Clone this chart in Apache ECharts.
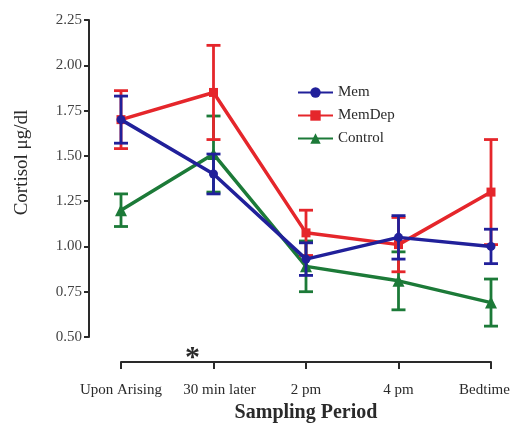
<!DOCTYPE html>
<html>
<head>
<meta charset="utf-8">
<script src="https://cdn.jsdelivr.net/npm/echarts@6/dist/echarts.min.js"></script>
<style>
  html, body { margin: 0; padding: 0; background: #ffffff; overflow: hidden; }
  #chart { width: 514px; height: 423px; }
</style>
</head>
<body>
<div id="chart"></div>
<script>
// Sampling periods across the day
const categories = ['Upon Arising', '30 min later', '2 pm', '4 pm', 'Bedtime'];

// Mean cortisol (µg/dl) and error for each group
const memMean = [1.70, 1.40, 0.93, 1.05, 1.00];
const memErr = [0.13, 0.11, 0.09, 0.12, 0.095];
const memDepMean = [1.70, 1.85, 1.075, 1.01, 1.30];
const memDepErr = [0.16, 0.26, 0.125, 0.15, 0.29];
const controlMean = [1.20, 1.51, 0.89, 0.81, 0.69];
const controlErr = [0.09, 0.21, 0.14, 0.16, 0.13];

// Y axis ticks
const yMin = 0.5, yMax = 2.25, yStep = 0.25;

const FONT = 'Liberation Serif';
const INK = '#2a2a2a';
const BLUE = '#21209a';
const RED = '#e5262b';
const GREEN = '#1c7a38';

function errorData(mean, err) {
  return categories.map((c, i) => [i, mean[i] - err[i], mean[i] + err[i]]);
}

function errorBars(color) {
  return function (params, api) {
    const x = api.value(0);
    const lo = api.coord([x, api.value(1)]);
    const hi = api.coord([x, api.value(2)]);
    const hw = 7;
    const style = { stroke: color, lineWidth: 2.8 };
    return {
      type: 'group',
      children: [
        { type: 'line', shape: { x1: lo[0], y1: lo[1], x2: hi[0], y2: hi[1] }, style },
        { type: 'line', shape: { x1: lo[0] - hw, y1: lo[1], x2: lo[0] + hw, y2: lo[1] }, style },
        { type: 'line', shape: { x1: hi[0] - hw, y1: hi[1], x2: hi[0] + hw, y2: hi[1] }, style }
      ]
    };
  };
}

function group(name, mean, err, color, symbol, size, z) {
  return [
    {
      type: 'custom',
      renderItem: errorBars(color),
      data: errorData(mean, err),
      encode: { x: 0, y: [1, 2] },
      z: z,
      silent: true
    },
    {
      type: 'line',
      name: name,
      data: mean,
      symbol: symbol,
      symbolSize: size,
      itemStyle: { color: color },
      lineStyle: { color: color, width: 3.5 },
      z: z + 0.5
    }
  ];
}

const chart = echarts.init(document.getElementById('chart'), null, {
  renderer: 'canvas', width: 514, height: 423
});

chart.setOption({
  animation: false,
  backgroundColor: '#ffffff',
  textStyle: { fontFamily: FONT },
  grid: { left: 121, right: 23, top: 20, bottom: 86, outerBoundsMode: 'none', containLabel: false },
  legend: {
    data: ['Mem', 'MemDep', 'Control'],
    orient: 'vertical',
    left: 297,
    top: 85,
    padding: 0,
    itemWidth: 35,
    itemHeight: 13,
    itemGap: 8,
    textStyle: { fontFamily: FONT, fontSize: 15, color: INK }
  },
  xAxis: {
    type: 'category',
    data: categories,
    boundaryGap: false,
    offset: 25,
    axisLine: { lineStyle: { color: INK, width: 2 } },
    axisTick: { length: 7, lineStyle: { color: INK, width: 2 } },
    axisLabel: {
      fontFamily: FONT, fontSize: 15, color: INK, margin: 21, interval: 0,
      formatter: (v, i) => i === 4 ? '{last|' + v + '}' : (i === 1 ? '{second|' + v + '}' : v),
      rich: {
        last: { fontFamily: FONT, fontSize: 15, color: INK, padding: [0, 13, 0, 0] },
        second: { fontFamily: FONT, fontSize: 15, color: INK, padding: [0, 0, 0, 12] }
      }
    },
    name: 'Sampling Period',
    nameLocation: 'middle',
    nameGap: 36,
    nameTextStyle: { fontFamily: FONT, fontSize: 20, fontWeight: 'bold', color: INK }
  },
  yAxis: {
    type: 'value',
    min: yMin,
    max: yMax,
    interval: yStep,
    offset: 32,
    splitLine: { show: false },
    axisLine: { show: true, lineStyle: { color: INK, width: 2 } },
    axisTick: { show: true, length: 5, lineStyle: { color: INK, width: 2 } },
    axisLabel: {
      fontFamily: FONT, fontSize: 15, color: '#444', margin: 7,
      formatter: v => v.toFixed(2)
    },
    name: 'Cortisol μg/dl',
    nameLocation: 'middle',
    nameGap: 57,
    nameTextStyle: { fontFamily: FONT, fontSize: 19, color: INK, padding: [0, 0, 0, 32] }
  },
  graphic: [
    {
      type: 'text',
      left: 185,
      top: 343,
      style: { text: '*', font: 'bold 30px "Liberation Serif"', fill: INK }
    }
  ],
  series: [
    ...group('Control', controlMean, controlErr, GREEN, 'triangle', 12, 2),
    ...group('MemDep', memDepMean, memDepErr, RED, 'rect', 9, 3),
    ...group('Mem', memMean, memErr, BLUE, 'circle', 9, 4)
  ]
});
</script>
</body>
</html>
